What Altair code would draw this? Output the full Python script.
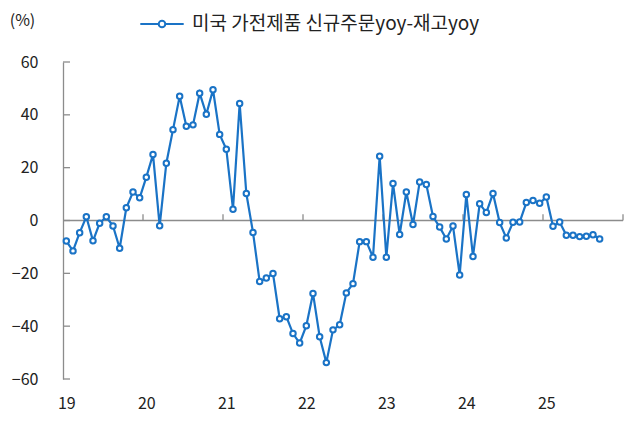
import altair as alt
import pandas as pd

# ---- data ----
years = ["19", "20", "21", "22", "23", "24", "25"]
series_name = "미국 가전제품 신규주문yoy-재고yoy"
values_2019 = [-7.8, -11.5, -4.6, 1.4, -7.7, -1.0, 1.4, -2.1, -10.5, 4.8, 10.8, 8.6]
values_2020 = [16.4, 25.0, -2.0, 21.7, 34.4, 47.0, 35.7, 36.2, 48.2, 40.2, 49.5, 32.6]
values_2021 = [27.0, 4.3, 44.3, 10.2, -4.5, -23.1, -21.8, -20.1, -37.2, -36.4, -42.8, -46.4]
values_2022 = [-39.8, -27.6, -44.0, -53.8, -41.4, -39.5, -27.4, -23.9, -8.0, -8.0, -13.9, 24.3]
values_2023 = [-13.9, 14.0, -5.3, 10.8, -1.5, 14.6, 13.6, 1.5, -2.5, -7.0, -2.1, -20.6]
values_2024 = [9.8, -13.6, 6.3, 3.0, 10.2, -0.8, -6.6, -0.7, -0.6, 6.8, 7.6, 6.5]
values_2025 = [8.9, -2.2, -0.6, -5.6, -5.6, -6.1, -6.0, -5.4, -7.0]
y_ticks = [-60, -40, -20, 0, 20, 40, 60]

values = (values_2019 + values_2020 + values_2021 + values_2022 +
          values_2023 + values_2024 + values_2025)
n_slots = 12 * len(years)

df = pd.DataFrame({"m": list(range(len(values))), "v": values, "s": series_name})
year_starts = [12 * i for i in range(len(years))]
boundaries = pd.DataFrame({"b": [12 * i - 0.5 for i in range(1, len(years) + 1)]})
ticks_df = pd.DataFrame({"t": y_ticks})
zero_df = pd.DataFrame({"z": [0]})

BLUE = "#1a73c6"
AXIS = "#8c8c8c"
FONT = "Noto Sans CJK KR"

label_expr = "[" + ",".join(f"'{y}'" for y in years) + "][round(datum.value/12)]"

x_scale = alt.Scale(domain=[-0.5, n_slots - 0.5], nice=False, zero=False)
y_scale = alt.Scale(domain=[-60, 60], nice=False)

x_enc = alt.X("m:Q", scale=x_scale,
              axis=alt.Axis(values=year_starts, labelExpr=label_expr, title=None,
                            domain=False, ticks=False, grid=False,
                            labelPadding=16, labelFontSize=16, labelFont=FONT,
                            labelColor="#222222"))
y_enc = alt.Y("v:Q", scale=y_scale,
              axis=alt.Axis(values=y_ticks, title="(%)", titleAngle=0,
                            titleX=-41, titleY=-42, titleAlign="center",
                            titleBaseline="middle", titleFontSize=16,
                            titleFontWeight="normal", titleFont=FONT,
                            titleColor="#222222",
                            domain=True, domainColor=AXIS, domainWidth=1.3,
                            ticks=False, grid=False, labelPadding=25,
                            labelFontSize=16, labelFont=FONT, labelColor="#222222"))

legend_path = ("M-2.17,0L-0.33,0M0.33,0L2.17,0"
               "M0.33,0A0.33,0.33,0,1,1,-0.33,0A0.33,0.33,0,1,1,0.33,0Z")

line = alt.Chart(df).mark_line(color=BLUE, strokeWidth=2.2).encode(x=x_enc, y=y_enc)

points = alt.Chart(df).mark_point(filled=False, fill="white", fillOpacity=1, opacity=1,
                                  size=30, strokeWidth=2).encode(
    x="m:Q", y="v:Q",
    color=alt.Color("s:N", scale=alt.Scale(range=[BLUE]),
                    legend=alt.Legend(orient="none", legendX=88, legendY=-49,
                                      title=None, padding=0,
                                      symbolType=legend_path, symbolSize=400,
                                      symbolStrokeWidth=2, symbolFillColor="white",
                                      symbolStrokeColor=BLUE,
                                      labelOffset=19, labelFontSize=19,
                                      labelFont=FONT, labelColor="#222222",
                                      labelLimit=500)),
)

zero_line = alt.Chart(zero_df).mark_rule(color=AXIS, strokeWidth=1.5).encode(y=alt.Y("z:Q"))

year_ticks = alt.Chart(boundaries).mark_rule(color=AXIS, strokeWidth=1.3).encode(
    x=alt.X("b:Q"), y=alt.datum(0), y2=alt.datum(2.4))

y_tick_marks = alt.Chart(ticks_df).mark_rule(color=AXIS, strokeWidth=1.3).encode(
    y=alt.Y("t:Q"), x=alt.value(0), x2=alt.value(7))

chart = alt.layer(zero_line, year_ticks, y_tick_marks, line, points).properties(
    width=560, height=317,
    autosize=alt.AutoSizeParams(type="none"),
    padding={"left": 55, "top": 54, "right": 1, "bottom": 34},
    background="white",
).configure_view(stroke=None)

chart.save("out.html", embed_options={"renderer": "svg", "actions": False})
